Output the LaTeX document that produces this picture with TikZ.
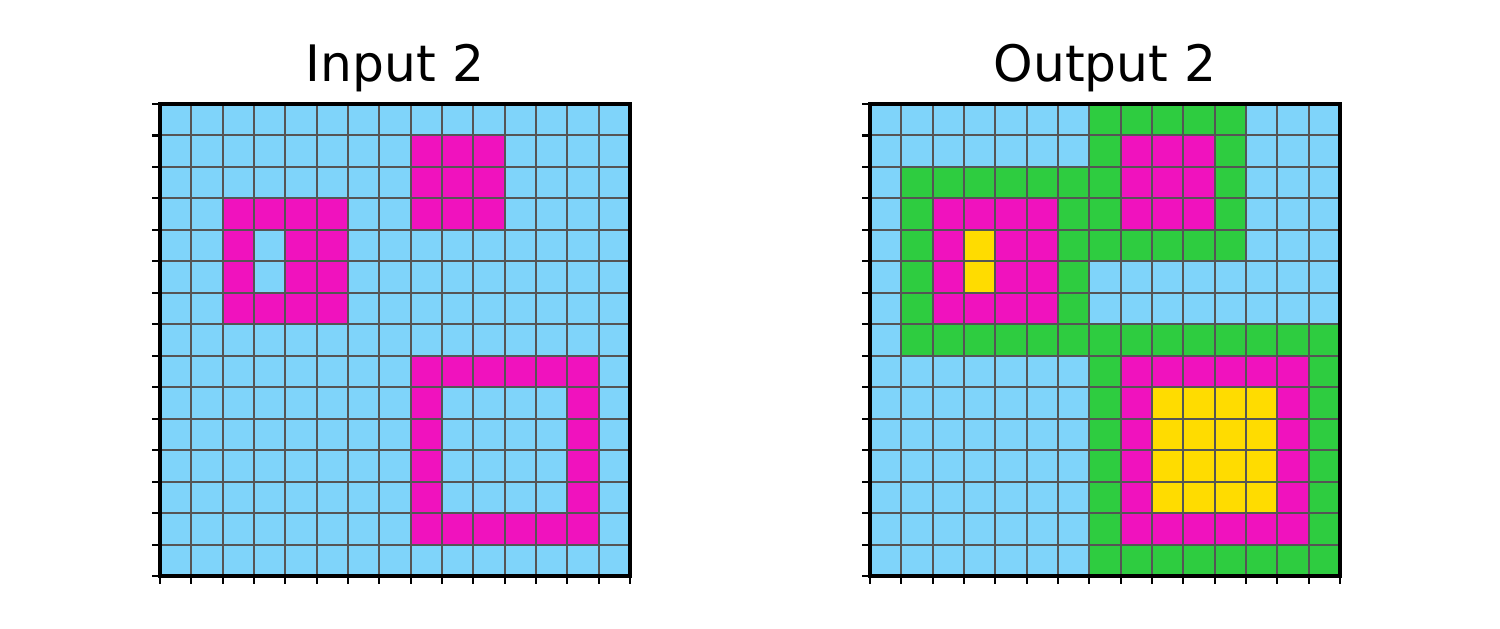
\documentclass[tikz,border=0pt]{standalone}
\usepackage{fontspec}
\setmainfont{DejaVu Sans}
\usepackage{tikz}
\usetikzlibrary{positioning}
\usepackage{xcolor}
\definecolor{arcsky}{HTML}{7FD4FA}
\definecolor{arcpink}{HTML}{F012BE}
\definecolor{arcgreen}{HTML}{2ECC40}
\definecolor{arcyellow}{HTML}{FFDC00}
\definecolor{gridgrey}{HTML}{555555}
\tikzset{
  cellline/.style={draw=gridgrey, line width=0.55pt},
  frameline/.style={draw=black, line width=1pt},
  tickline/.style={draw=black, line width=0.6pt},
  paneltitle/.style={font=\fontsize{14.3}{17}\selectfont, anchor=base, inner sep=0pt}
}
% grid lines, frame and ticks of one 15x15 panel
\newcommand{\panelgrid}{%
  \foreach \i in {1,...,14} {
    \draw[cellline] (\i,0) -- (\i,15);
    \draw[cellline] (0,\i) -- (15,\i);
  }
  \draw[frameline] (0,0) rectangle (15,15);
  \foreach \i in {0,...,15} {
    \draw[tickline] (0,\i) -- ++(-0.08cm,0);
    \draw[tickline] (\i,15) -- ++(0,-0.08cm);
  }%
}
\begin{document}
\begin{tikzpicture}
\useasboundingbox (0,0) rectangle (15,6.29);
\node[paneltitle] (intitle) at (3.95,5.47) {Input 2};
\node[paneltitle] (outtitle) at (11.05,5.47) {Output 2};
% input panel
\begin{scope}[shift={(1.60cm,5.25cm)}, x=0.3133cm, y=-0.3147cm]
  \fill[arcsky] (0,0) rectangle (15,15);
  \fill[arcpink] (8,1) rectangle (11,4);
  \fill[arcpink] (2,3) rectangle (6,7);
  \fill[arcsky] (3,4) rectangle (4,6);
  \fill[arcpink] (8,8) rectangle (14,14);
  \fill[arcsky] (9,9) rectangle (13,13);
  \panelgrid
\end{scope}
% output panel
\begin{scope}[shift={(8.70cm,5.25cm)}, x=0.3133cm, y=-0.3147cm]
  \fill[arcsky] (0,0) rectangle (15,15);
  \fill[arcgreen] (7,0) rectangle (12,5);
  \fill[arcpink] (8,1) rectangle (11,4);
  \fill[arcgreen] (1,2) rectangle (7,8);
  \fill[arcpink] (2,3) rectangle (6,7);
  \fill[arcyellow] (3,4) rectangle (4,6);
  \fill[arcgreen] (7,7) rectangle (15,15);
  \fill[arcpink] (8,8) rectangle (14,14);
  \fill[arcyellow] (9,9) rectangle (13,13);
  \panelgrid
\end{scope}
\end{tikzpicture}
\end{document}
